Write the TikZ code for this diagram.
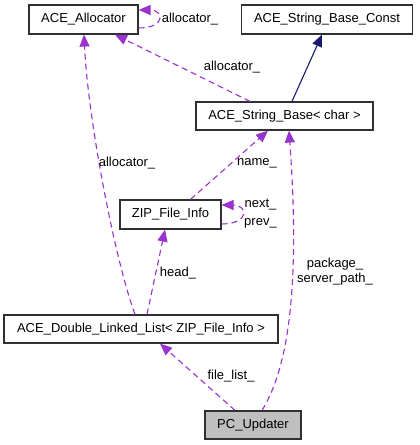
\documentclass[tikz,border=0pt]{standalone}
\usepackage{fontspec}
\setmainfont{Liberation Sans}
\usetikzlibrary{arrows.meta}
\definecolor{edgepurple}{HTML}{9A32CD}
\definecolor{edgenavy}{HTML}{191970}
\definecolor{boxgray}{HTML}{BFBFBF}
\definecolor{boxline}{HTML}{303030}
\begin{document}
\begin{tikzpicture}[x=1bp,y=-1bp,
  box/.style={draw=boxline,line width=1.2bp,fill=white,inner sep=0pt,font=\fontsize{13bp}{15bp}\selectfont},
  lbl/.style={inner sep=0pt,font=\fontsize{13bp}{15bp}\selectfont,align=center},
  usage/.style={draw=edgepurple,line width=1.1bp,dash pattern=on 6bp off 4bp,
    -{Triangle[length=12bp,width=10bp,fill=edgepurple]}},
  inherit/.style={draw=edgenavy,line width=1.1bp,
    -{Triangle[length=12bp,width=10bp,fill=edgenavy]}}]
\path[use as bounding box,fill=white] (0,0) rectangle (419,445);

\node[box,minimum width=109bp,minimum height=29bp] (alloc) at (83.5,19.5) {ACE\_Allocator};
\node[box,minimum width=171bp,minimum height=29bp] (const) at (327,19.5) {ACE\_String\_Base\_Const};
\node[box,minimum width=177bp,minimum height=28bp] (sb) at (284.5,116) {ACE\_String\_Base< char >};
\node[box,minimum width=101bp,minimum height=29bp] (zip) at (170.5,214.5) {ZIP\_File\_Info};
\node[box,minimum width=274bp,minimum height=28bp] (dll) at (141,329) {ACE\_Double\_Linked\_List< ZIP\_File\_Info >};
\node[box,fill=boxgray,minimum width=96bp,minimum height=28bp] (pc) at (253,425) {PC\_Updater};

% inheritance
\draw[inherit] ([xshift=7.5bp]sb.north) -- ([xshift=-5bp]const.south);
% sb -> alloc
\draw[usage] ([xshift=-34.5bp]sb.north) -- ([xshift=31.5bp]alloc.south);
\node[lbl] (l1) at (232,67) {allocator\_};
% alloc self loop
\draw[usage] ([yshift=-8.5bp]alloc.east) .. controls (166,28) and (164,10) .. ([yshift=9.5bp]alloc.east);
\node[lbl] (l2) at (190,19) {allocator\_};
% zip -> sb
\draw[usage] ([xshift=20bp]zip.north) -- ([xshift=-16.5bp]sb.south);
\node[lbl] (l3) at (257,163) {name\_};
% zip self loop
\draw[usage] ([yshift=-9.5bp]zip.east) .. controls (250,224) and (248,205) .. ([yshift=9.5bp]zip.east);
\node[lbl] (l4) at (260.5,205) {next\_};
\node[lbl] (l5) at (260.5,223) {prev\_};
% dll -> alloc
\draw[usage] ([xshift=-6bp]dll.north) .. controls (115,260) and (88,120) .. ([xshift=0.5bp]alloc.south);
\node[lbl] (l6) at (127,163) {allocator\_};
% dll -> zip
\draw[usage] ([xshift=6bp]dll.north) -- ([xshift=-5.5bp]zip.south);
\node[lbl] (l7) at (178,273) {head\_};
% pc -> dll
\draw[usage] ([xshift=-18bp]pc.north) -- ([xshift=19bp]dll.south);
\node[lbl] (l8) at (231,376) {file\_list\_};
% pc -> sb
\draw[usage] ([xshift=9bp]pc.north) .. controls (292,362) and (299,270) .. ([xshift=4.5bp]sb.south);
\node[lbl] (l9) at (335,272) {package\_\\server\_path\_};
\end{tikzpicture}
\end{document}
